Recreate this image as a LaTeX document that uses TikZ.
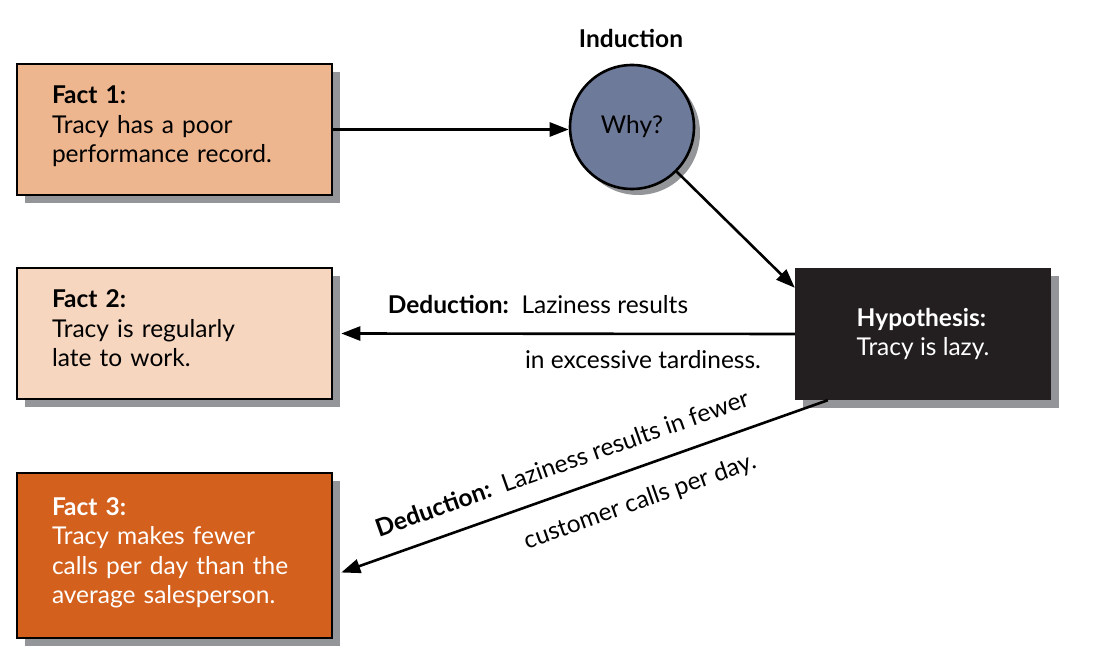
\documentclass[tikz,border=0pt]{standalone}
\usepackage{fontspec}
\setmainfont{Lato}
\usetikzlibrary{arrows.meta,positioning,calc,shadows}
\definecolor{factone}{HTML}{EEB68F}
\definecolor{facttwo}{HTML}{F6D6BE}
\definecolor{factthree}{HTML}{D3601D}
\definecolor{hypblack}{HTML}{231F20}
\definecolor{whyblue}{HTML}{6E7A99}
\definecolor{shadowgray}{HTML}{939598}
\newcommand{\labfont}{\fontsize{24.5}{29.5}\selectfont}
\newcommand{\liftup}{\rule[-10pt]{0pt}{0pt}}

\begin{document}
\begin{tikzpicture}[x=1pt,y=-1pt,
 boxshadow/.style={drop shadow={shadow xshift=8pt,shadow yshift=-8pt,fill=shadowgray,opacity=1}},
 fact/.style={draw=black,line width=2.6pt,minimum width=315pt,text width=245pt,inner xsep=35pt,align=left,font=\labfont,boxshadow},
 conn/.style={line width=2.6pt,-{Triangle[length=19pt,width=14pt]}},
 lbl/.style={font=\labfont,inner sep=0pt}]
\useasboundingbox (0,0) rectangle (1114,652);

\node[fact,fill=factone,minimum height=131pt] (fact1) at (174.5,129.5) {\textbf{Fact 1:}\\Tracy has a poor\\performance record.\liftup};
\node[fact,fill=facttwo,minimum height=131pt] (fact2) at (174.5,333.5) {\textbf{Fact 2:}\\Tracy is regularly\\late to work.\liftup};
\node[fact,fill=factthree,text=white,minimum height=165pt] (fact3) at (174.5,555.5) {\textbf{Fact 3:}\\Tracy makes fewer\\calls per day than the\\average salesperson.\liftup};

\node[circle,draw=black,line width=2.6pt,fill=whyblue,minimum size=124pt,font=\labfont,
 drop shadow={shadow xshift=6pt,shadow yshift=-6pt,fill=shadowgray,opacity=1}] (why) at (632,127) {Why?};
\node[lbl] (induct) at (631,38) {\textbf{Induction}};

\node[fill=hypblack,text=white,minimum width=256pt,minimum height=132pt,align=left,font=\labfont,boxshadow] (hyp) at (923,334) {\textbf{Hypothesis:}\\Tracy is lazy.};

% connectors
\draw[conn] (fact1.east) -- (fact1.east -| why.west);
\draw[conn] (why.-45) -- ($(hyp.north west)+(0,20)$);
\draw[conn] (hyp.west) -- ($(fact2.east)+(8,0)$);
\draw[conn] ($(hyp.south west)+(33,0)$) -- ($(fact3.east)+(8,17)$);

% deduction labels
\node[lbl] (ded2a) at (538,304) {\textbf{Deduction:}\ \ Laziness results};
\node[lbl] (ded2b) at (643,360) {in excessive tardiness.};
\node[lbl,rotate=19.5] (ded3a) at (562,463) {\textbf{Deduction:}\ \ Laziness results in fewer};
\node[lbl,rotate=19.5] (ded3b) at (640,502) {customer calls per day.};
\end{tikzpicture}
\end{document}
